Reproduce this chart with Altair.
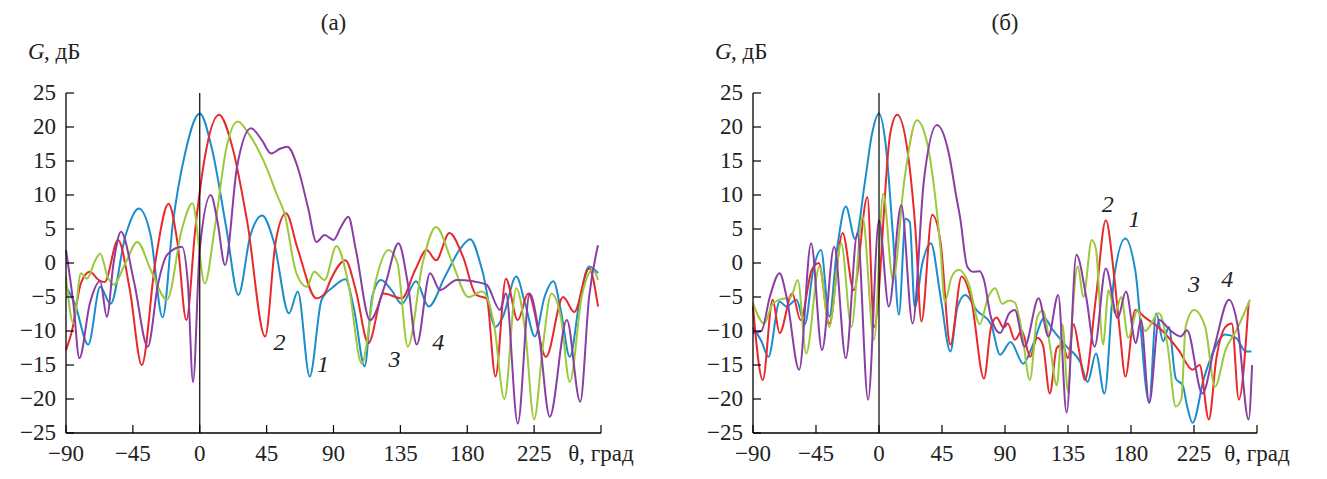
import altair as alt
import pandas as pd

# ---------------- data (theta in degrees, G in dB) ----------------
SERIES = ["1", "2", "3", "4"]
COLORS = ["#1b8dcc", "#e8292c", "#9cc93c", "#8a3ea4"]

A1 = [(-90, -3.5), (-84, -6), (-75, -12), (-67, -3.5), (-60, -6), (-50, 4), (-41, 8), (-33, 4),
      (-25, -8), (-18, 6), (-10, 16), (0, 22), (8, 17), (18, 5), (26, -4.7), (34, 4), (42, 7),
      (50, 3), (60, -7.4), (66, -4.2), (74, -16.7), (82, -5.4), (90, -3.5), (98, -2.4),
      (104, -7), (111, -15.2), (116, -5), (122, -2.5), (129, -4), (136, -6), (145.5, -2.7),
      (154, -6.4), (165, -2), (175, 2), (182, 3.5), (190, -1), (199, -9.4), (204, -7.9),
      (213, -2), (219, -6), (225.5, -10.8), (232, -5), (238, -2.7), (243, -7), (249, -13.8),
      (256, -5), (262, -0.5), (268, -1.5)]
A2 = [(-90, -12.8), (-86, -10), (-80, -3), (-74, -1.3), (-68, -2.5), (-64, -2.8), (-55, 3.4),
      (-47, -4), (-39, -15), (-30, 0), (-21, 8.7), (-15, 3), (-9, -8.4), (-3, 5), (3, 15),
      (13, 21.8), (22, 17), (32, 6), (44, -10.8), (51, 3), (58, 7.3), (66, 2), (78.5, -5.2),
      (84, -4.5), (88, -2.5), (98, 0.4), (105, -4), (113.5, -11.8), (123.6, -4.5), (136, -5.2),
      (145, -1), (152.7, 1.9), (159, 0.4), (168, 4.4), (177, 1), (186, -4.7), (193, -5.2),
      (199, -16.7), (206, -2.3), (214, -8.4), (221, -4.5), (233, -13.8), (244.5, -5),
      (252, -7.2), (262, -0.8), (268, -6.4)]
A3 = [(-90, -2), (-85, -8.9), (-80, -1.5), (-76, -2.3), (-70, 0.5), (-67, 1.4), (-62, -2),
      (-58, -3.2), (-50, 0), (-42, 3.1), (-33, -1), (-22, -5.4), (-12, 5), (-5, 8.8),
      (3.4, -3), (10, 5), (18, 17), (25.5, 20.8), (33, 19), (45, 14), (52, 10), (57, 7.3),
      (65, -1.5), (72, -3.5), (77, -1.3), (84, -2.5), (92, 2.5), (100, -3), (109, -14.8),
      (118, -3), (127, 1.9), (133, 0), (140, -12.3), (150, 0), (159, 5.3), (170, 0),
      (180.7, -5), (190, -4.2), (198, -9), (205, -20), (213, -3.7), (219, -10), (225, -23),
      (231, -12), (236.6, -4.5), (243, -8), (249, -17.5), (257, -5), (264.6, -1), (268, -2.5)]
A4 = [(-90, 1.9), (-85, -6), (-81, -14), (-74, -6), (-67, -2.7), (-62.5, -7.9), (-58, 0),
      (-53, 4.6), (-44, -3), (-35, -12.3), (-28, -3), (-22, 1.2), (-12, 2.4), (-8, -3),
      (-4.5, -17.5), (0, 2), (7.4, 10), (12, 6), (17, -0.3), (25, 14), (34.5, 19.8), (42, 18),
      (48, 16.1), (54, 16.8), (59, 17.1), (66, 14), (73, 8), (78.5, 3.1), (84, 4.1), (90, 3.4),
      (95, 5.3), (100, 6.8), (105, 2), (114.6, -8.4), (125, -3), (133.7, 2.9), (140, -3),
      (146, -12), (155, -1.5), (161.6, -4), (173, -2.5), (184, -2.7), (193, -3.2), (202, -6.9),
      (206, -4.5), (214, -23.6), (222, -4.5), (228, -10), (235.5, -22.6), (247, -8.4),
      (256, -20.4), (262, -5), (268, 2.6)]

B1 = [(-90, -9.5), (-84, -11.5), (-79, -13.8), (-71, -5.7), (-66, -6.4), (-59, -5.4), (-53, -9),
      (-47, -1), (-41.4, 1.9), (-35.5, -7.9), (-30, 2), (-23.7, 8.3), (-17, 3.5), (-10, 12),
      (-5, 19), (0, 22), (5, 17), (10, 4), (14.2, -7.6), (19, 6.5), (22, 6), (25.5, -6.5),
      (31, 0), (37, 2.9), (44, -5), (51, -13), (56, -6.5), (61.6, -4.7), (70, -7), (80, -9),
      (86.5, -13.5), (94, -11.6), (103, -14.8), (110, -12), (118, -8.1), (124, -9.8),
      (134, -12.3), (144, -14.7), (149, -17.5), (155, -13.3), (161, -19.2), (168, -2),
      (176, 3.6), (183, -1), (193, -20.5), (198, -7.4), (203, -11.5), (207, -9.4), (212, -17),
      (217, -18), (220, -21), (224, -23.5), (232, -17), (240, -12.5), (247, -10.5), (255, -11),
      (262, -13), (266, -13)]
B2 = [(-90, -6.4), (-83, -17.2), (-76, -5.4), (-71, -10.3), (-62, -4.5), (-56, -8.4), (-48, -1),
      (-43, 0), (-35.5, -8.9), (-26, 4.4), (-18, -4), (-8.3, 9.7), (-3.5, -9.4), (8, 19),
      (13, 21.8), (20, 17), (26, 5), (30.3, -8.6), (38, 7.1), (44, 3), (51, -12), (59, -2),
      (66, -5.5), (75, -17), (80, -9.5), (84, -8), (89, -9.5), (92, -8.9), (97, -11.3),
      (102, -10), (108, -13.8), (113, -11), (117, -12), (122, -19.2), (127, -12.5), (131, -12),
      (135, -14), (139, -9), (143, -13), (147, -17.2), (155, -5), (162, 6.3), (168, -2),
      (172, -10), (176, -16.7), (183, -6.9), (190, -8), (202, -9.9), (214, -12.8),
      (224, -15.7), (229, -15), (235.6, -23), (241, -14), (247.5, -9.4), (252, -8.9),
      (257, -20.1), (264, -5.9)]
B3 = [(-90, -5.9), (-82, -8.9), (-76, -6), (-71, -5.4), (-63, -5), (-58, -2.5), (-52, -13.3),
      (-42.6, -0.5), (-35.5, -9.4), (-27, 2.9), (-19.7, -9.4), (-11.8, 6.8), (-3.5, -11.3),
      (3, 10.2), (10, -2.5), (18, 12), (27, 21), (34, 18), (40, 10), (44, 2), (47, -5.7),
      (52, -2), (57, -1), (64, -3), (72, -9), (78, -5), (83, -3.7), (88, -6), (93, -5.5),
      (97, -5.8), (102, -10), (107.8, -17.2), (113, -8), (117, -7), (122, -12), (127, -18),
      (131, -9), (135, -19), (138, -8), (142, -0.5), (146, -5), (152, 3.4), (155, 2),
      (160, -12), (164, -4), (168.5, -7.4), (173, -5), (178, -11), (184.7, -6.9), (190, -10),
      (200, -7.4), (206, -12), (212, -21.1), (216, -20), (219, -9.4), (225, -6.9),
      (233, -9.4), (240, -18.2), (247.5, -12.8), (255, -10), (265, -5.4)]
B4 = [(-90, -10.3), (-84, -10), (-78, -5), (-71, -1.5), (-66, -5), (-57, -15.7), (-48.5, 2.9),
      (-40.7, -12.8), (-32, 2.4), (-23.7, -14), (-15.4, 4.4), (-7.8, -20.1), (0, 6.3),
      (7, -6.4), (15.9, 8.5), (24, -8.9), (32, 12), (41.4, 20.3), (50, 16), (55, 10),
      (58, 6.6), (63, -0.5), (67.5, -1.3), (72, -1.2), (75, -2.5), (80, -8), (86.5, -10.3),
      (93, -7.4), (97, -6.9), (104, -12.3), (114, -5.2), (121, -10.8), (128, -4.7),
      (134, -22), (141, 1.2), (148, -5), (154, -12.3), (162, -0.8), (170.5, -8.1),
      (176.4, -4.2), (183.5, -11.8), (187, -8.4), (193, -20.6), (200, -8.4), (208, -9.9),
      (215.5, -10.8), (220, -9.9), (231, -19.2), (240, -12), (250, -5.4), (256, -9),
      (264, -23), (266.5, -15)]

LABELS_A = [("1", 83, -15), ("2", 53.7, -11.8), ("3", 131, -14.3), ("4", 160.5, -11.8)]
LABELS_B = [("2", 163.4, 8.5), ("1", 182.4, 6.3), ("3", 225, -3.2), ("4", 248.7, -2.5)]

X_TICKS = [-90, -45, 0, 45, 90, 135, 180, 225, 270]
X_TICK_LABELS = ["−90", "−45", "0", "45", "90", "135", "180", "225", "θ, град"]
Y_TICKS = [-25, -20, -15, -10, -5, 0, 5, 10, 15, 20, 25]
Y_TICK_LABELS = ["−25", "−20", "−15", "−10", "−5", "0", "5", "10", "15", "20", "25"]
TITLES = ["(а)", "(б)"]

FONT = "Liberation Serif"
FS = 23
H = 340
TXT = "#222222"


def frame(curves):
    rows = []
    for name, pts in zip(SERIES, curves):
        for i, (t, g) in enumerate(pts):
            rows.append({"series": name, "theta": t, "G": g, "order": i})
    return pd.DataFrame(rows)


def panel(curves, labels, title, width, anchor_box=False):
    xs = alt.Scale(domain=[-90, 270], nice=False, zero=False)
    ys = alt.Scale(domain=[-25, 25], nice=False, zero=False)
    x_axis = alt.Axis(values=X_TICKS, ticks=False, grid=False, labels=False,
                      domainColor="black", domainWidth=1.2, title=None)
    y_axis = alt.Axis(values=Y_TICKS, ticks=False, grid=False, labels=False,
                      domainColor="black", domainWidth=1.2, title=None)

    df = frame(curves)
    lines = alt.Chart(df).mark_line(interpolate="monotone", strokeWidth=2).encode(
        x=alt.X("theta:Q", scale=xs, axis=x_axis),
        y=alt.Y("G:Q", scale=ys, axis=y_axis),
        color=alt.Color("series:N", scale=alt.Scale(domain=SERIES, range=COLORS), legend=None),
        order="order:Q",
        detail="series:N",
    )

    zero = alt.Chart(pd.DataFrame({"theta": [0]})).mark_rule(color="black", strokeWidth=1.2).encode(
        x=alt.X("theta:Q", scale=xs, axis=None), y=alt.value(0), y2=alt.value(H))

    # axis lines (left and bottom)
    ydom = alt.Chart(pd.DataFrame({"G": [Y_TICKS[0]], "G2": [Y_TICKS[-1]]})).mark_rule(
        color="black", strokeWidth=1.3).encode(
        x=alt.value(0), y=alt.Y("G:Q", scale=ys, axis=None), y2="G2:Q")
    xdom = alt.Chart(pd.DataFrame({"theta": [X_TICKS[0]], "t2": [X_TICKS[-1]]})).mark_rule(
        color="black", strokeWidth=1.3).encode(
        y=alt.value(H), x=alt.X("theta:Q", scale=xs, axis=None), x2="t2:Q")

    xdf = pd.DataFrame({"theta": X_TICKS, "lab": X_TICK_LABELS})
    ydf = pd.DataFrame({"G": Y_TICKS, "lab": Y_TICK_LABELS})
    xt = alt.Chart(xdf).mark_rule(color="black", strokeWidth=1.2).encode(
        x=alt.X("theta:Q", scale=xs, axis=None), y=alt.value(H), y2=alt.value(H - 8))
    yt = alt.Chart(ydf).mark_rule(color="black", strokeWidth=1.2).encode(
        y=alt.Y("G:Q", scale=ys, axis=None), x=alt.value(0), x2=alt.value(8))
    xl = alt.Chart(xdf).mark_text(font=FONT, fontSize=FS, color=TXT, align="center",
                                  baseline="alphabetic").encode(
        x=alt.X("theta:Q", scale=xs, axis=None), y=alt.value(H + 28), text="lab:N")
    yl = alt.Chart(ydf).mark_text(font=FONT, fontSize=FS, color=TXT, align="right",
                                  baseline="middle").encode(
        y=alt.Y("G:Q", scale=ys, axis=None), x=alt.value(-10), text="lab:N")

    ldf = pd.DataFrame(labels, columns=["txt", "theta", "G"])
    lab = alt.Chart(ldf).mark_text(font=FONT, fontSize=24, fontStyle="italic",
                                   color=TXT, baseline="middle", align="center").encode(
        x=alt.X("theta:Q", scale=xs, axis=None), y=alt.Y("G:Q", scale=ys, axis=None),
        text="txt:N")

    g_it = alt.Chart(pd.DataFrame({"t": ["G"]})).mark_text(
        font=FONT, fontSize=FS, fontStyle="italic", color=TXT,
        align="left", baseline="alphabetic").encode(
        x=alt.value(-38), y=alt.value(-34), text="t:N")
    g_un = alt.Chart(pd.DataFrame({"t": [", дБ"]})).mark_text(
        font=FONT, fontSize=FS, color=TXT, align="left", baseline="alphabetic").encode(
        x=alt.value(-22), y=alt.value(-34), text="t:N")

    ttl = alt.Chart(pd.DataFrame({"t": [title]})).mark_text(
        font=FONT, fontSize=FS, color=TXT, align="center", baseline="alphabetic").encode(
        x=alt.value(width / 2), y=alt.value(-63), text="t:N")

    layers = [lines, zero, ydom, xdom, xt, yt, xl, yl, lab, g_it, g_un, ttl]
    if anchor_box:
        # invisible anchor fixing the outer top-left corner of the figure
        box = alt.Chart(pd.DataFrame({"t": [0]})).mark_rule(strokeOpacity=0, strokeWidth=1).encode(
            x=alt.value(-66), x2=alt.value(-60), y=alt.value(-93), y2=alt.value(-87))
        layers.append(box)

    return alt.layer(*layers).properties(width=width, height=H)


pa = panel([A1, A2, A3, A4], LABELS_A, TITLES[0], 535, anchor_box=True)
pb = panel([B1, B2, B3, B4], LABELS_B, TITLES[1], 504)

chart = alt.hconcat(pa, pb, spacing=152, bounds="flush").properties(
    padding={"left": 0, "top": 0, "right": 0, "bottom": 0},
    background="white",
).configure_view(stroke=None)

chart.save("out.html", embed_options={"renderer": "svg", "actions": False})
